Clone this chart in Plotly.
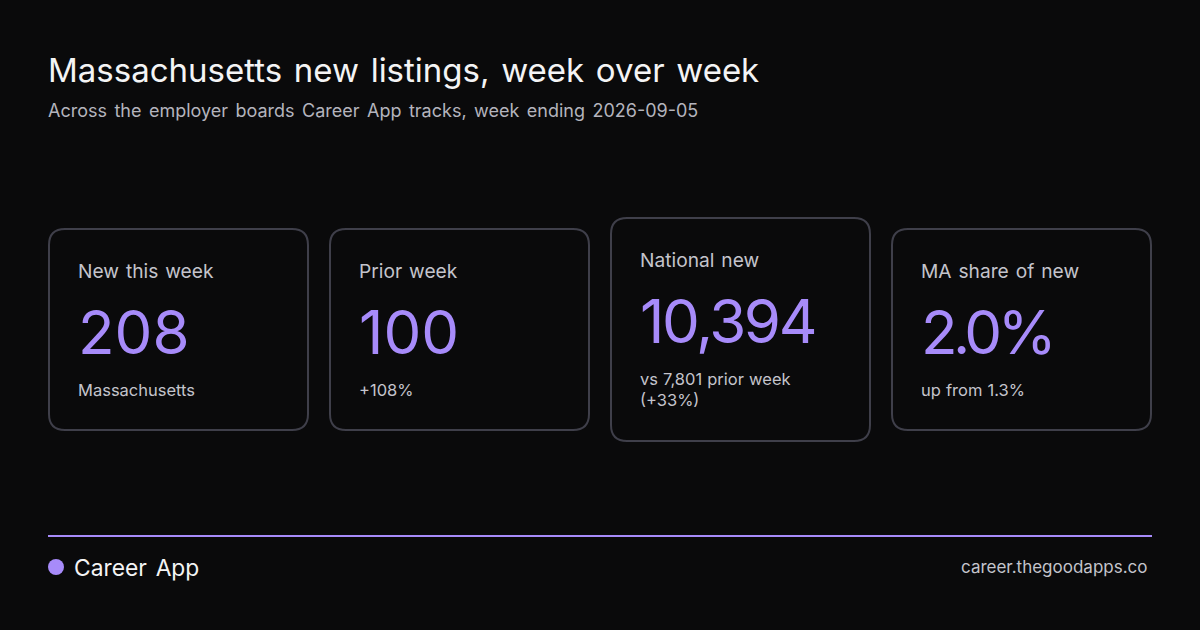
import plotly.graph_objects as go

FONT = "Inter"
BG = "#0a0a0b"
PURPLE = "#a78bfa"
BORDER = "#3f3f4a"

title = "Massachusetts new listings, week over week"
subtitle = "Across the employer boards Career App tracks, week ending 2026-09-05"
brand = "Career App"
site = "career.thegoodapps.co"

card_labels = ["New this week", "Prior week", "National new", "MA share of new"]
card_values = ["208", "100", "10,394", "2.0%"]
card_notes = ["Massachusetts", "+108%", "vs 7,801 prior week<br>(+33%)", "up from 1.3%"]

# card boxes in page pixels: left, top, bottom
card_left = [49, 330, 611, 892]
card_top = [229, 229, 218, 229]
card_bottom = [430, 430, 441, 430]
card_width = 259


def rounded(x0, y0, x1, y1, r=16):
    return (f"M{x0+r},{y0} L{x1-r},{y0} Q{x1},{y0} {x1},{y0+r} L{x1},{y1-r} Q{x1},{y1} {x1-r},{y1} "
            f"L{x0+r},{y1} Q{x0},{y1} {x0},{y1-r} L{x0},{y0+r} Q{x0},{y0} {x0+r},{y0} Z")


def text(x, y, s, size, color, anchor="left"):
    fig.add_annotation(x=x, y=y, text=s, xref="x", yref="y", showarrow=False, xanchor=anchor,
                       yanchor="middle", align="left", font=dict(family=FONT, size=size, color=color))


fig = go.Figure()

text(46, 70, title, 33, "#f4f4f5")
text(46, 110.5, subtitle, 18, "#b4b4bd")

for i in range(4):
    x = card_left[i]
    fig.add_shape(type="path", path=rounded(x, card_top[i], x + card_width, card_bottom[i]),
                  line=dict(color=BORDER, width=2), fillcolor=BG)
    text(x + 27, card_top[i] + 42, card_labels[i], 19.2, "#c4c4cc")
    text(x + 27, card_top[i] + 103, card_values[i], 60, PURPLE)
    note_y = card_top[i] + 161 if i != 2 else card_top[i] + 171.5
    text(x + 27, note_y, card_notes[i], 16.5, "#c4c4cc")

fig.add_shape(type="line", x0=48, x1=1152, y0=536, y1=536, line=dict(color=PURPLE, width=2))
fig.add_shape(type="circle", x0=48, x1=64, y0=559, y1=575, line=dict(width=0), fillcolor=PURPLE)
text(72, 567, brand, 22.8, "#f4f4f5")
text(1150, 567, site, 17, "#c4c4cc", anchor="right")

fig.update_layout(width=1200, height=630, margin=dict(l=0, r=0, t=0, b=0), showlegend=False,
                  paper_bgcolor=BG, plot_bgcolor=BG,
                  xaxis=dict(range=[0, 1200], visible=False),
                  yaxis=dict(range=[630, 0], visible=False))

# page margin off, the wider word gaps and tighter big numbers of the original
post = """
document.body.style.margin = '0';
document.body.style.background = '#0a0a0b';
var tight = {'10,394': '-2.4px', '2.0%': '-4.5px'};
document.querySelectorAll('.annotation-text').forEach(function (t) {
    var size = parseFloat(t.style.fontSize);
    t.style.wordSpacing = size == 16.5 ? '0.5px' : size == 19.2 ? '1.5px' : '2.4px';
    if (tight[t.textContent]) { t.style.letterSpacing = tight[t.textContent]; }
});
"""
fig.write_html("out.html", config=dict(displayModeBar=False), post_script=post)
